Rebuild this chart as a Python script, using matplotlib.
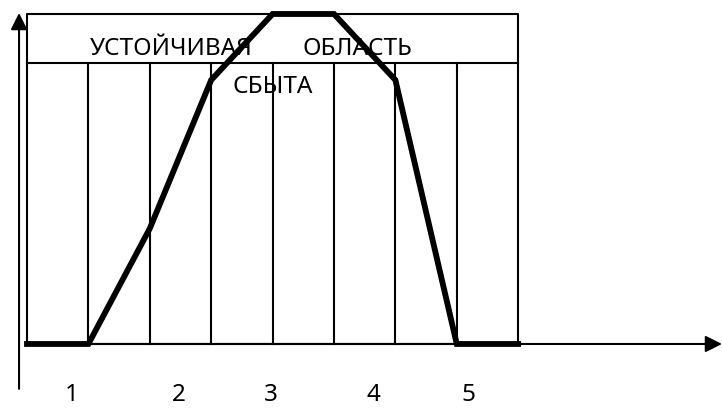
import matplotlib
matplotlib.use("Agg")
import matplotlib.pyplot as plt

plt.rcParams['font.family'] = ['Noto Sans', 'DejaVu Sans']

# Data
curve_x = [0, 1, 2, 3, 4, 5, 6, 7, 8]
curve_y = [0, 0, 0.35, 0.80, 1.0, 1.0, 0.80, 0, 0]
n_columns = 8
header_level = 0.85
stage_labels = ['1', '2', '3', '4', '5']
stage_pos = [0.73, 2.48, 3.98, 5.64, 7.19]
title_words = ['УСТОЙЧИВАЯ', 'ОБЛАСТЬ']
subtitle = 'СБЫТА'

fig = plt.figure(figsize=(7.22, 4.08), dpi=100)
ax = fig.add_axes([0, 0, 1, 1])
ax.set_xlim(-0.44, 11.32)
ax.set_ylim(-0.194, 1.0424)
ax.axis('off')

lw_thin = 1.5
# outer box
ax.plot([0, n_columns, n_columns, 0, 0], [0, 0, 1, 1, 0], color='black', lw=lw_thin, solid_capstyle='butt')
# header line
ax.plot([0, n_columns], [header_level, header_level], color='black', lw=lw_thin)
# column dividers
for i in range(1, n_columns):
    ax.plot([i, i], [0, header_level], color='black', lw=lw_thin)

# axes with arrows
arrow_style = '-|>,head_length=0.5,head_width=0.25'
ax.annotate('', xy=(-0.13, 1.003), xytext=(-0.13, -0.136),
            arrowprops=dict(arrowstyle=arrow_style, color='black', lw=lw_thin,
                            mutation_scale=20, shrinkA=0, shrinkB=0))
ax.annotate('', xy=(11.32, 0), xytext=(0, 0),
            arrowprops=dict(arrowstyle=arrow_style, color='black', lw=lw_thin,
                            mutation_scale=20, shrinkA=0, shrinkB=0))

# curve
ax.plot(curve_x, curve_y, color='black', lw=4.2, solid_joinstyle='miter', zorder=5)

# texts
fs = 17.5
ax.text(1.03, 0.876, title_words[0], fontsize=fs, ha='left', va='baseline')
ax.text(4.48, 0.876, title_words[1], fontsize=fs, ha='left', va='baseline')
ax.text(3.34, 0.761, subtitle, fontsize=fs, ha='left', va='baseline')
for lab, p in zip(stage_labels, stage_pos):
    ax.text(p, -0.172, lab, fontsize=fs, ha='center', va='baseline')

fig.savefig('out.png', dpi=100)
